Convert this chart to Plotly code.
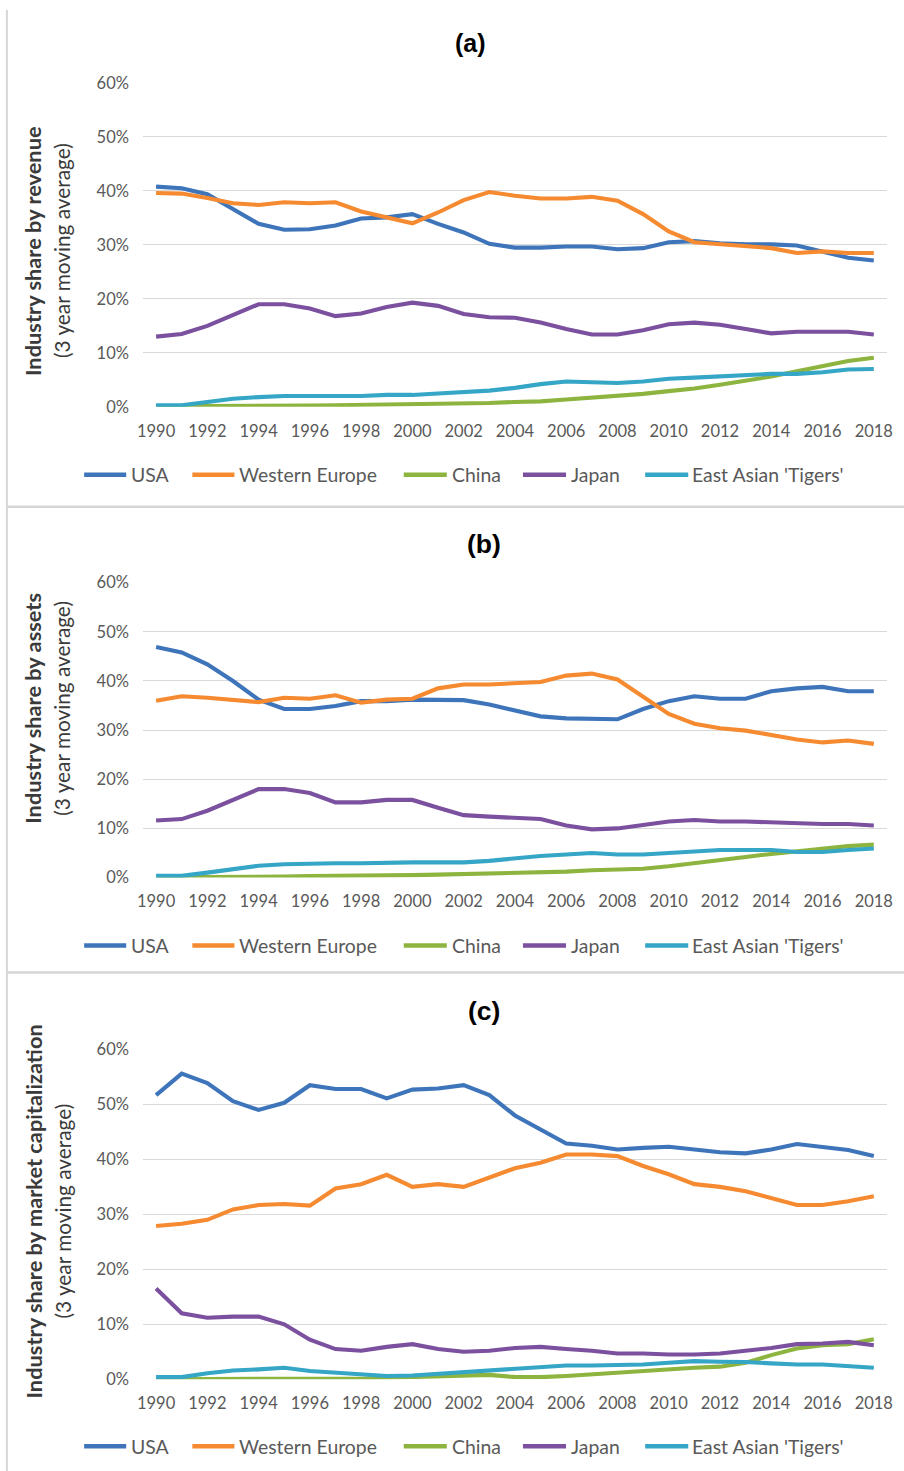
import plotly.graph_objects as go

# ---- data (shares in %, 3-year moving averages) ----
years = list(range(1990, 2019))
regions = ["USA", "Western Europe", "China", "Japan", "East Asian 'Tigers'"]
colors = ["#3E75BA", "#F58A30", "#8DB43E", "#7B519F", "#35A6C6"]

usa_revenue = [40.8, 40.5, 39.4, 36.6, 33.9, 32.8, 32.9, 33.6, 34.9, 35.1, 35.7, 33.9, 32.3, 30.2, 29.5,
               29.5, 29.7, 29.7, 29.2, 29.4, 30.5, 30.7, 30.3, 30.1, 30.1, 29.9, 28.7, 27.6, 27.1]
weu_revenue = [39.6, 39.5, 38.7, 37.7, 37.4, 37.9, 37.7, 37.9, 36.2, 35.1, 34.0, 36.0, 38.3, 39.8, 39.1,
               38.6, 38.6, 38.9, 38.2, 35.7, 32.5, 30.5, 30.1, 29.8, 29.4, 28.5, 28.8, 28.5, 28.5]
china_revenue = [0.1, 0.1, 0.15, 0.2, 0.2, 0.2, 0.25, 0.3, 0.35, 0.4, 0.4, 0.45, 0.55, 0.7, 0.9,
                 1.0, 1.35, 1.7, 2.0, 2.4, 2.9, 3.4, 4.1, 4.8, 5.6, 6.6, 7.6, 8.5, 9.1]
japan_revenue = [13.0, 13.5, 15.0, 17.0, 19.0, 19.0, 18.2, 16.8, 17.3, 18.5, 19.3, 18.7, 17.2, 16.6, 16.5,
                 15.6, 14.4, 13.4, 13.4, 14.2, 15.3, 15.6, 15.2, 14.4, 13.6, 13.9, 13.9, 13.9, 13.4]
tigers_revenue = [0.3, 0.3, 0.9, 1.5, 1.8, 2.0, 2.0, 2.0, 2.0, 2.2, 2.2, 2.45, 2.75, 3.0, 3.5,
                  4.2, 4.7, 4.6, 4.4, 4.7, 5.2, 5.4, 5.6, 5.9, 6.1, 6.1, 6.4, 6.9, 7.0]

usa_assets = [46.9, 45.8, 43.4, 40.0, 36.2, 34.3, 34.3, 34.9, 35.9, 35.9, 36.2, 36.1, 36.1, 35.2, 33.9,
              32.8, 32.4, 32.2, 32.2, 34.3, 35.9, 36.9, 36.4, 36.4, 37.9, 38.5, 38.8, 37.9, 37.9]
weu_assets = [36.0, 36.9, 36.6, 36.1, 35.7, 36.6, 36.4, 37.1, 35.6, 36.2, 36.4, 38.5, 39.3, 39.3, 39.5,
              39.8, 41.1, 41.5, 40.3, 36.9, 33.3, 31.3, 30.4, 29.9, 28.9, 28.1, 27.5, 27.9, 27.2]
china_assets = [0.05, 0.05, 0.1, 0.1, 0.15, 0.2, 0.3, 0.3, 0.4, 0.45, 0.5, 0.6, 0.7, 0.7, 0.8,
                0.9, 1.2, 1.5, 1.7, 1.8, 2.3, 3.0, 3.7, 4.2, 4.8, 5.4, 6.0, 6.4, 6.7]
japan_assets = [11.6, 11.9, 13.6, 15.8, 18.0, 18.0, 17.2, 15.3, 15.3, 15.8, 15.8, 14.2, 12.7, 12.4, 12.2,
                11.9, 10.6, 9.8, 10.0, 10.7, 11.4, 11.7, 11.4, 11.4, 11.2, 11.2, 10.9, 10.9, 10.6]
tigers_assets = [0.35, 0.35, 1.0, 1.8, 2.4, 2.7, 2.9, 2.9, 2.9, 3.1, 3.1, 3.1, 3.1, 3.4, 3.95,
                 4.4, 4.7, 5.0, 4.7, 4.7, 5.0, 5.3, 5.6, 5.6, 5.6, 5.2, 5.2, 5.6, 5.9]

usa_mcap = [51.7, 55.6, 53.9, 50.6, 49.0, 50.3, 53.5, 52.8, 52.8, 51.1, 52.7, 52.9, 53.5, 51.7, 48.0,
            45.5, 42.9, 42.5, 41.8, 42.1, 42.3, 41.8, 41.3, 41.1, 41.8, 42.8, 42.3, 41.7, 40.6]
weu_mcap = [27.9, 28.3, 29.0, 30.9, 31.7, 31.9, 31.6, 34.7, 35.5, 37.2, 35.0, 35.5, 35.0, 36.7, 38.4,
            39.4, 40.9, 40.9, 40.6, 38.8, 37.3, 35.5, 35.0, 34.2, 33.0, 31.7, 31.7, 32.4, 33.3]
china_mcap = [0.0, 0.05, 0.1, 0.1, 0.1, 0.1, 0.1, 0.1, 0.1, 0.3, 0.4, 0.5, 0.7, 0.8, 0.4,
              0.4, 0.6, 0.9, 1.3, 1.6, 1.9, 2.1, 2.3, 3.0, 4.4, 5.6, 6.2, 6.4, 7.3]
japan_mcap = [16.5, 12.0, 11.2, 11.4, 11.4, 10.0, 7.2, 5.5, 5.2, 5.9, 6.4, 5.5, 5.0, 5.2, 5.7,
              5.9, 5.5, 5.2, 4.7, 4.7, 4.5, 4.5, 4.7, 5.2, 5.7, 6.4, 6.5, 6.8, 6.2]
tigers_mcap = [0.4, 0.4, 1.1, 1.6, 1.8, 2.1, 1.5, 1.2, 0.9, 0.6, 0.7, 1.0, 1.3, 1.5, 1.8,
               2.1, 2.5, 2.5, 2.6, 2.7, 3.0, 3.3, 3.2, 3.15, 2.9, 2.7, 2.7, 2.4, 2.1]

panel_titles = ["(a)", "(b)", "(c)"]
axis_titles = ["Industry share by revenue", "Industry share by assets",
               "Industry share by market capitalization"]
axis_subtitle = "(3 year moving average)"
y_ticks = [0, 10, 20, 30, 40, 50, 60]
y_ticktext = ["%d%%" % v for v in y_ticks]
x_ticks = list(range(1990, 2019, 2))

panels = [
    [usa_revenue, weu_revenue, china_revenue, japan_revenue, tigers_revenue],
    [usa_assets, weu_assets, china_assets, japan_assets, tigers_assets],
    [usa_mcap, weu_mcap, china_mcap, japan_mcap, tigers_mcap],
]

# ---- page geometry ----
# Layout positions are written in screen pixels; the page shows the figure
# offset by the body margin and slightly scaled, so they are converted here.
OFF_X, OFF_Y = 8, 10
SC_X, SC_Y = 0.985, 0.987
W, H = 910, 1481


def fx(px):
    return (px - OFF_X) / SC_X / W


def fy(py):
    return 1 - (py - OFF_Y) / SC_Y / H


plot_top = [83, 583, 1050]
plot_bottom = [407, 878, 1380]
title_y = [43, 544, 1012]
title_x = [472, 485, 485]
title_size = [25, 26.5, 26.5]
ytitle_y = [251, 709, 1212]
legend_y = [475, 946, 1447]
plot_left, plot_right = 145, 887

# legend entry layout: swatch start/end and text start
legend_swatch = [(86, 128), (194, 236), (405, 448), (524, 567), (646, 689)]
legend_text_x = [131, 239, 451, 570, 691]

TICK_FONT = dict(family="Lato", size=16.5, color="#595959")
GRID = "#D9D9D9"

fig = go.Figure()
layout = dict(width=W, height=H, margin=dict(l=0, r=0, t=0, b=0),
              paper_bgcolor="white", plot_bgcolor="white", showlegend=False)
annotations = []
shapes = []

for p, series in enumerate(panels):
    sfx = "" if p == 0 else str(p + 1)
    for name, vals, col in zip(regions, series, colors):
        fig.add_trace(go.Scatter(x=years, y=vals, mode="lines", name=name,
                                 line=dict(color=col, width=4.1),
                                 xaxis="x" + sfx, yaxis="y" + sfx))
    layout["xaxis" + sfx] = dict(
        domain=[fx(plot_left), fx(plot_right)], range=[1989.5, 2018.5],
        anchor="y" + sfx, tickvals=x_ticks, ticktext=[str(v) for v in x_ticks],
        showgrid=False, zeroline=False, showline=False,
        ticks="outside", ticklen=9, tickcolor="rgba(0,0,0,0)",
        tickfont=TICK_FONT, tickangle=0)
    layout["yaxis" + sfx] = dict(
        domain=[fy(plot_bottom[p]), fy(plot_top[p])], range=[0, 60],
        anchor="x" + sfx, tickvals=y_ticks, ticktext=y_ticktext,
        showgrid=True, gridcolor=GRID, gridwidth=1.3, zeroline=False, showline=False,
        ticks="outside", ticklen=10, tickcolor="rgba(0,0,0,0)", tickfont=TICK_FONT)

    # panel label
    annotations.append(dict(text="<b>%s</b>" % panel_titles[p], x=fx(title_x[p]), y=fy(title_y[p]),
                            xref="paper", yref="paper", showarrow=False,
                            font=dict(family="Liberation Sans", size=title_size[p], color="#000000"),
                            xanchor="center", yanchor="middle"))
    # rotated axis titles
    annotations.append(dict(text="<b>%s</b>" % axis_titles[p], x=fx(35), y=fy(ytitle_y[p]),
                            xref="paper", yref="paper", showarrow=False, textangle=-90,
                            font=dict(family="Lato", size=21.8, color="#3A3A3A"),
                            xanchor="center", yanchor="middle"))
    annotations.append(dict(text=axis_subtitle, x=fx(64), y=fy(ytitle_y[p]),
                            xref="paper", yref="paper", showarrow=False, textangle=-90,
                            font=dict(family="Lato", size=20.8, color="#3A3A3A"),
                            xanchor="center", yanchor="middle"))

    # legend row
    for (x0, x1), tx, name, col in zip(legend_swatch, legend_text_x, regions, colors):
        shapes.append(dict(type="line", xref="paper", yref="paper",
                           x0=fx(x0), x1=fx(x1), y0=fy(legend_y[p]), y1=fy(legend_y[p]),
                           line=dict(color=col, width=4.6)))
        annotations.append(dict(text=name, x=fx(tx), y=fy(legend_y[p]), xref="paper", yref="paper",
                                showarrow=False, xanchor="left", yanchor="middle",
                                font=dict(family="Lato", size=19.4, color="#595959")))

# chart frame lines between the three panels
FRAME = "#D6D6D6"
shapes.append(dict(type="line", xref="paper", yref="paper", x0=0.001, x1=0.001, y0=0, y1=1,
                   line=dict(color=FRAME, width=2)))
for yy in (507, 973):
    shapes.append(dict(type="line", xref="paper", yref="paper", x0=0, x1=1, y0=fy(yy), y1=fy(yy),
                       line=dict(color=FRAME, width=2.5)))

layout["annotations"] = annotations
layout["shapes"] = shapes
fig.update_layout(**layout)
fig.write_html("out.html")
